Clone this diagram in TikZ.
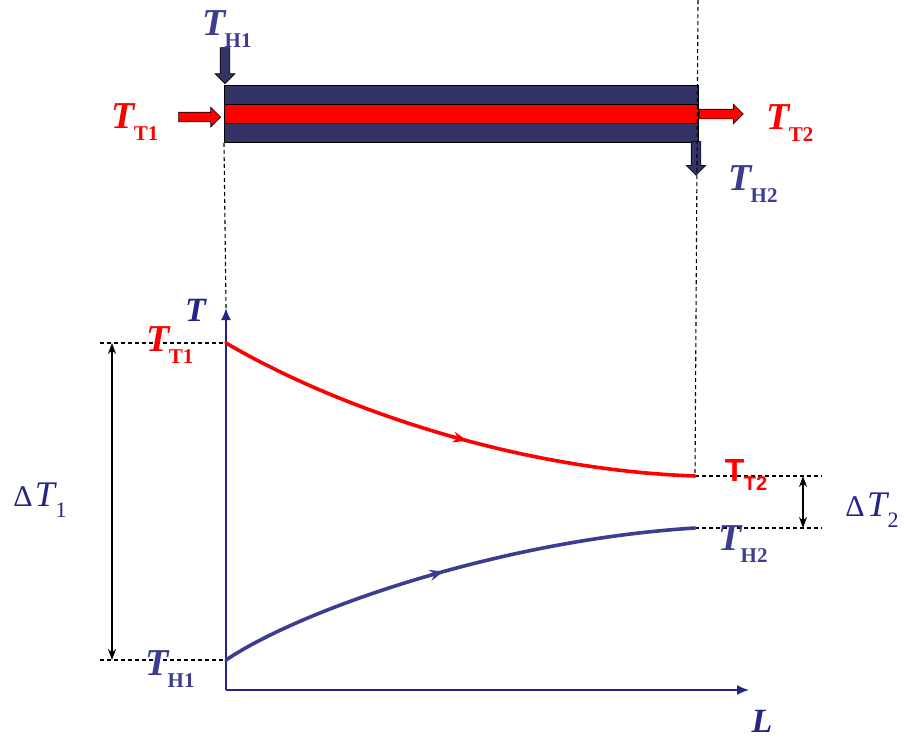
\documentclass[tikz,border=0pt]{standalone}
\usepackage{fontspec}
\setmainfont{Liberation Serif}
\newfontfamily\sanslbl{Liberation Sans}
\usetikzlibrary{arrows.meta,shapes.arrows,decorations.markings}
\definecolor{navy}{HTML}{333366}
\definecolor{axisblue}{HTML}{23238A}
\definecolor{lblue}{HTML}{3C3C90}
\definecolor{hotred}{HTML}{FF0000}
\newcommand{\tlab}[1]{\fontsize{38}{38}\selectfont\textbf{\textit{T}}\kern-0.06em\raisebox{-0.33em}{\fontsize{21}{21}\selectfont\textbf{#1}}}
\newcommand{\dlab}[1]{\fontsize{30}{30}\selectfont Δ\kern0.08em\fontsize{36}{36}\selectfont\textit{T}\kern-0.04em\raisebox{-0.3em}{\fontsize{22}{22}\selectfont #1}}

\begin{document}
\begin{tikzpicture}[x=1pt, y=-1pt,
  layer/.style={draw=black, line width=0.8pt, minimum width=474, minimum height=19, inner sep=0pt, anchor=north west},
  blockarrow/.style={single arrow, draw=black, line width=0.6pt, inner xsep=0pt, inner ysep=4.5pt,
    single arrow head extend=5pt, single arrow head indent=0pt, minimum height=#1},
  guide/.style={dash pattern=on 4pt off 3pt, black, line width=1.1pt},
  axis/.style={axisblue, line width=1.8pt, -{Latex[length=12pt,width=10pt]}},
  span/.style={black, line width=1.4pt, {Stealth[length=11pt,width=8pt]}-{Stealth[length=11pt,width=8pt]}},
  flow/.style={line width=3.6pt, line cap=round, postaction={decorate},
    decoration={markings, mark=at position #1 with {\arrow{Stealth[length=14pt,width=11pt]}}}},
  redlbl/.style={text=hotred, inner sep=0pt},
  bluelbl/.style={text=lblue, inner sep=0pt},
  delta/.style={text=axisblue, inner sep=0pt}
]
  \useasboundingbox (0,0) rectangle (904,740);

  % exchanger bar
  \node[layer, fill=navy] (top) at (224,85) {};
  \node[layer, fill=hotred] (mid) at (224,104) {};
  \node[layer, fill=navy] (bot) at (224,123) {};

  \node[blockarrow=36, fill=navy, rotate=-90, anchor=tip] (hin) at (225,84) {};
  \node[blockarrow=42, fill=hotred, anchor=tip] (tin) at (221,117) {};
  \node[blockarrow=44, fill=hotred, anchor=tail] (tout) at (699,114) {};
  \node[blockarrow=34, fill=navy, rotate=-90, anchor=tail] (hout) at (696,141) {};

  \node[bluelbl] (h1top) at (227,29) {\tlab{H1}};
  \node[redlbl] (t1top) at (135,122) {\tlab{T1}};
  \node[redlbl] (t2top) at (790,123) {\tlab{T2}};
  \node[bluelbl] (h2top) at (753,184) {\tlab{H2}};

  % axes
  \coordinate (O) at (226,690);
  \coordinate (ytip) at (226,308);
  \coordinate (xtip) at (749,690);
  \draw[axis] (O) -- (ytip);
  \draw[axis] (O) -- (xtip);
  \node[text=axisblue, inner sep=0pt] (tax) at (196,310) {\fontsize{34}{34}\selectfont\textbf{\textit{T}}};
  \node[text=axisblue, inner sep=0pt] (lax) at (762,721) {\fontsize{34}{34}\selectfont\textbf{\textit{L}}};

  % curve ends
  \coordinate (r0) at (226,343);
  \coordinate (r1) at (695,476);
  \coordinate (b0) at (226,660);
  \coordinate (b1) at (695,528);

  % guides
  \draw[guide] (bot.south west) -- (ytip);
  \draw[guide] (698,0) -- (r1);
  \coordinate (g1) at (100,343);
  \coordinate (g2) at (100,660);
  \coordinate (g3) at (822,476);
  \coordinate (g4) at (822,528);
  \draw[guide] (g1) -- (r0);
  \draw[guide] (g2) -- (b0);
  \draw[guide] (r1) -- (g3);
  \draw[guide] (b1) -- (g4);

  % temperature profiles
  \draw[flow=0.53, hotred] (r0) .. controls (340,410) and (520,470) .. (r1);
  \draw[flow=0.48, lblue] (b0) .. controls (300,610) and (500,540) .. (b1);

  % differences
  \draw[span] (112,343) -- (112,660);
  \draw[span] (803,476) -- (803,528);
  \node[delta] (d1) at (40,500) {\dlab{1}};
  \node[delta] (d2) at (872,510) {\dlab{2}};

  \node[redlbl] (t1plot) at (170,345) {\tlab{T1}};
  \node[redlbl] (t2plot) at (746,475) {\sanslbl\fontsize{32}{32}\selectfont\textbf{T}\kern-0.02em\raisebox{-0.3em}{\fontsize{20}{20}\selectfont\textbf{T2}}};
  \node[bluelbl] (h2plot) at (743,544) {\tlab{H2}};
  \node[bluelbl] (h1plot) at (170,669) {\tlab{H1}};
\end{tikzpicture}
\end{document}
